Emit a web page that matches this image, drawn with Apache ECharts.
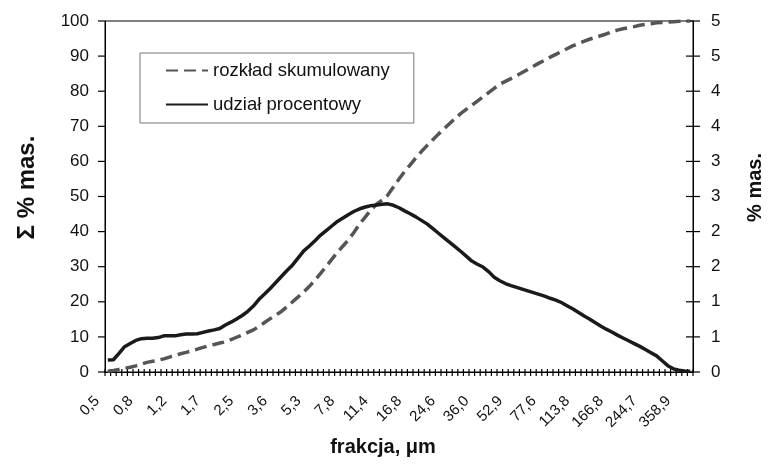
<!DOCTYPE html>
<html>
<head>
<meta charset="utf-8">
<script src="https://cdn.jsdelivr.net/npm/echarts@6/dist/echarts.min.js"></script>
<style>
html,body{margin:0;padding:0;background:#fff;}
#chart{width:773px;height:468px;}
</style>
</head>
<body>
<div id="chart"></div>
<script>
const categories = [
"0,5","0,5","0,6","0,6","0,7","0,7",
"0,8","0,8","0,9","1,0","1,0","1,1",
"1,2","1,2","1,3","1,4","1,5","1,6",
"1,7","1,8","1,9","2,1","2,2","2,4",
"2,5","2,7","2,9","3,1","3,3","3,5",
"3,6","3,9","4,1","4,4","4,7","5,0",
"5,3","5,7","6,0","6,4","6,9","7,3",
"7,8","8,3","8,9","9,5","10,1","10,7",
"11,4","12,2","13,0","13,8","14,8","15,7",
"16,8","17,9","19,1","20,3","21,7","23,1",
"24,6","26,2","28,0","29,8","31,8","33,8",
"36,0","38,4","41,0","43,7","46,5","49,6",
"52,9","56,4","60,1","64,0","68,3","72,8",
"77,6","82,7","88,1","94,0","100,2","106,8",
"113,8","121,3","129,3","137,8","146,9","156,5",
"166,8","177,8","189,6","202,1","215,4","229,6",
"244,7","260,8","278,0","296,3","315,9","336,7",
"358,9","382,6","407,8"
];

// rozkład skumulowany (left axis, Σ % mas.)
const cumulative = [
0.2,0.45,0.75,1.05,1.35,1.75,2.25,2.75,3.05,3.35,
3.75,4.25,4.75,5.2,5.6,6.05,6.5,7.0,7.5,7.85,
8.25,8.6,9.25,9.9,10.55,11.3,12.0,13.0,14.1,15.2,
16.2,17.25,18.6,20.0,21.4,22.8,24.4,26.2,28.1,30.1,
32.1,34.1,35.9,37.7,39.9,42.2,44.2,46.2,47.8,49.0,
50.4,52.7,55.0,57.1,59.0,61.0,62.8,64.5,66.1,67.7,
69.2,70.7,72.2,73.6,74.8,76.0,77.2,78.4,79.6,80.8,
82.0,82.8,83.6,84.4,85.3,86.2,87.1,88.0,88.8,89.7,
90.5,91.3,92.1,92.9,93.6,94.2,94.8,95.3,95.8,96.3,
96.9,97.4,97.8,98.1,98.4,98.8,99.0,99.2,99.5,99.6,
99.7,99.8,99.9,100,100
];

// udział procentowy (right axis, % mas.)
const share = [
0.17,0.175,0.265,0.36,0.405,0.45,0.475,0.48,0.48,0.49,
0.515,0.515,0.515,0.53,0.54,0.54,0.545,0.565,0.585,0.6,
0.62,0.67,0.71,0.755,0.805,0.865,0.94,1.035,1.11,1.19,
1.275,1.36,1.445,1.525,1.625,1.725,1.795,1.87,1.95,2.015,
2.08,2.145,2.195,2.245,2.29,2.325,2.35,2.37,2.38,2.39,
2.395,2.375,2.34,2.295,2.255,2.21,2.16,2.11,2.045,1.98,
1.915,1.85,1.785,1.72,1.65,1.58,1.535,1.495,1.43,1.35,
1.3,1.26,1.23,1.205,1.18,1.155,1.13,1.105,1.08,1.05,
1.025,0.99,0.945,0.9,0.85,0.8,0.755,0.705,0.655,0.61,
0.57,0.525,0.485,0.445,0.405,0.365,0.32,0.275,0.23,0.16,
0.09,0.045,0.025,0.015,0.01
];

const leftTicks = [0,10,20,30,40,50,60,70,80,90,100];
const rightTicks = [0,0.5,1,1.5,2,2.5,3,3.5,4,4.5,5];
const rightTickLabels = ["0","1","1","2","2","3","3","4","4","5","5"];
const seriesNames = ["rozkład skumulowany","udział procentowy"];

// category boundaries (tick marks sit between categories)
const boundaries = categories.map(function(c,i){return i;}).concat([categories.length]);

const FONT = "'Liberation Sans', Arial, sans-serif";
const tickSeries = function(name, yIdx, data, size, offset){
  return {name:name, type:'scatter', xAxisIndex:1, yAxisIndex:yIdx, data:data,
    symbol:'rect', symbolSize:size, symbolOffset:offset, clip:false, silent:true, z:2,
    itemStyle:{color:'#000',opacity:1}, emphasis:{disabled:true}};
};

const chart = echarts.init(document.getElementById('chart'), null, {renderer:'canvas'});
chart.setOption({
  animation:false,
  backgroundColor:'#fff',
  grid:{left:105,right:73,top:21,bottom:96,show:true,borderColor:'#000',borderWidth:1,backgroundColor:'rgba(0,0,0,0)'},
  legend:{
    orient:'vertical', left:140, top:53,
    padding:[8,24,9,25], itemGap:15, itemWidth:42, itemHeight:14,
    borderColor:'#777', borderWidth:1,
    itemStyle:{opacity:0},
    textStyle:{fontFamily:FONT,fontSize:18.5,color:'#111'},
    data:seriesNames
  },
  xAxis:[{
    type:'category', data:categories, boundaryGap:true, position:'bottom',
    axisLine:{show:true,lineStyle:{color:'#000',width:1}},
    axisTick:{show:false},
    axisLabel:{show:true,interval:5,rotate:45,margin:16,padding:[0,15,0,0],fontFamily:FONT,fontSize:15,color:'#111'},
    splitLine:{show:false},
    name:'frakcja, μm', nameLocation:'middle', nameGap:58,
    nameTextStyle:{fontFamily:FONT,fontSize:20,fontWeight:'bold',color:'#111',padding:[0,32,0,0]}
  },{
    type:'value', min:0, max:categories.length, show:false, position:'bottom'
  }],
  yAxis:[{
    type:'value', min:0, max:100, interval:10, position:'left',
    axisLine:{show:true,lineStyle:{color:'#000'}},
    axisTick:{show:false},
    axisLabel:{show:true,margin:16,fontFamily:FONT,fontSize:17,color:'#111'},
    splitLine:{show:false},
    name:'Σ % mas.', nameLocation:'middle', nameRotate:90, nameGap:66,
    nameTextStyle:{fontFamily:FONT,fontSize:24,fontWeight:'bold',color:'#111',padding:[0,0,0,18]}
  },{
    type:'value', min:0, max:5, interval:0.5, position:'right',
    axisLine:{show:true,lineStyle:{color:'#000'}},
    axisTick:{show:false},
    axisLabel:{show:true,margin:18,fontFamily:FONT,fontSize:17,color:'#111',
      formatter:function(v){return rightTickLabels[Math.round(v/0.5)];}},
    splitLine:{show:false},
    name:'% mas.', nameLocation:'middle', nameRotate:90, nameGap:52,
    nameTextStyle:{fontFamily:FONT,fontSize:20,fontWeight:'bold',color:'#111',padding:[0,0,0,18]}
  }],
  series:[{
    name:seriesNames[0], type:'line', xAxisIndex:0, yAxisIndex:0, data:cumulative,
    showSymbol:false, symbol:'none', z:3,
    lineStyle:{color:'#555',width:3.5,type:[12,6]},
    itemStyle:{color:'#555'}
  },{
    name:seriesNames[1], type:'line', xAxisIndex:0, yAxisIndex:1, data:share,
    showSymbol:false, symbol:'none', z:4,
    lineStyle:{color:'#1a1a1a',width:3.5},
    itemStyle:{color:'#1a1a1a'}
  },
  tickSeries('xTicks', 0, boundaries.map(function(b){return [b,0];}), [1.2,7], [0,0.5]),
  tickSeries('yTicksLeft', 0, leftTicks.map(function(v){return [0,v];}), [7,1.2], [-3.5,0]),
  tickSeries('yTicksRight', 1, rightTicks.map(function(v){return [categories.length,v];}), [14,1.2], [0,0])
  ]
});
</script>
</body>
</html>
